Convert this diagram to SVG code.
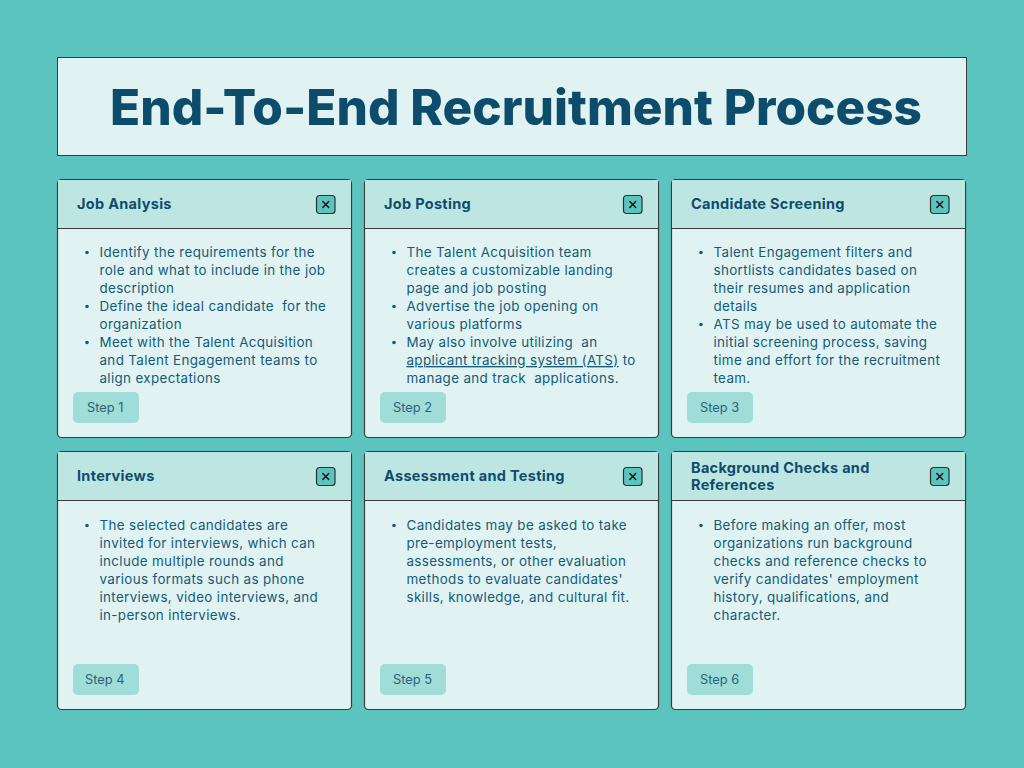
<svg xmlns="http://www.w3.org/2000/svg" width="1024" height="768" viewBox="0 0 1024 768">
<defs>
<style>
.card{fill:#e0f3f2;stroke:#3a3a3a;stroke-width:1.2}
.hdr{fill:#bde6e3}
.div{stroke:#3a3a3a;stroke-width:1.2}
.ttl{font-family:Inter,"Liberation Sans",sans-serif;font-weight:700;font-size:14.5px;letter-spacing:0.3px;fill:#0f4c6b}
.body{font-family:Inter,"Liberation Sans",sans-serif;font-size:13.4px;letter-spacing:0.35px;fill:#155a78}
.dot{fill:#155a78}
.btn{fill:#a0dcd8}
.btnt{font-family:Inter,"Liberation Sans",sans-serif;font-size:12.8px;fill:#2a6377}
.xb{fill:#5bc4be;stroke:#2e2e2e;stroke-width:1.2}
.xm{stroke:#1a1a1a;stroke-width:1.6;stroke-linecap:round}
</style>
<g id="closebtn">
<rect class="xb" x="0" y="0" width="18.5" height="18" rx="3"/>
<line class="xm" x1="6.3" y1="6" x2="12.2" y2="12"/>
<line class="xm" x1="12.2" y1="6" x2="6.3" y2="12"/>
</g>
</defs>
<rect width="1024" height="768" fill="#5bc4be"/>
<g id="title">
<rect x="57.5" y="57.5" width="909" height="98" fill="#e0f3f2" stroke="#3a3a3a" stroke-width="1"/>
<text x="516" y="125" text-anchor="middle" font-family="Inter,'Liberation Sans',sans-serif" font-weight="800" font-size="49" fill="#0d4d6b" textLength="812" lengthAdjust="spacingAndGlyphs">End-To-End Recruitment Process</text>
</g>

<g id="card1">
<rect class="card" x="57.5" y="179.5" width="294" height="258" rx="4"/>
<path class="hdr" d="M58.1 180.1H350.9V228H58.1Z"/>
<line class="div" x1="57.5" y1="228.5" x2="351.5" y2="228.5"/>
<text class="ttl" x="77" y="209">Job Analysis</text>
<use href="#closebtn" x="316.5" y="195.5"/>
<circle class="dot" cx="87" cy="252.5" r="1.8"/><circle class="dot" cx="87" cy="306.5" r="1.8"/><circle class="dot" cx="87" cy="342.5" r="1.8"/>
<text class="body" xml:space="preserve"><tspan x="99.5" y="257">Identify the requirements for the</tspan><tspan x="99.5" y="275">role and what to include in the job</tspan><tspan x="99.5" y="293">description</tspan><tspan x="99.5" y="311">Define the ideal candidate  for the</tspan><tspan x="99.5" y="329">organization</tspan><tspan x="99.5" y="347">Meet with the Talent Acquisition</tspan><tspan x="99.5" y="365">and Talent Engagement teams to</tspan><tspan x="99.5" y="383">align expectations</tspan></text>
<rect class="btn" x="73" y="392" width="66" height="31" rx="5"/>
<text class="btnt" x="87" y="411.5">Step 1</text>
</g>

<g id="card2">
<rect class="card" x="364.5" y="179.5" width="294" height="258" rx="4"/>
<path class="hdr" d="M365.1 180.1H657.9V228H365.1Z"/>
<line class="div" x1="364.5" y1="228.5" x2="658.5" y2="228.5"/>
<text class="ttl" x="384" y="209">Job Posting</text>
<use href="#closebtn" x="623.5" y="195.5"/>
<circle class="dot" cx="394" cy="252.5" r="1.8"/><circle class="dot" cx="394" cy="306.5" r="1.8"/><circle class="dot" cx="394" cy="342.5" r="1.8"/>
<text class="body" xml:space="preserve"><tspan x="406.5" y="257">The Talent Acquisition team</tspan><tspan x="406.5" y="275">creates a customizable landing</tspan><tspan x="406.5" y="293">page and job posting</tspan><tspan x="406.5" y="311">Advertise the job opening on</tspan><tspan x="406.5" y="329">various platforms</tspan><tspan x="406.5" y="347">May also involve utilizing  an</tspan><tspan x="406.5" y="365" text-decoration="underline">applicant tracking system (ATS)</tspan><tspan> to</tspan><tspan x="406.5" y="383">manage and track  applications.</tspan></text>
<rect class="btn" x="380" y="392" width="66" height="31" rx="5"/>
<text class="btnt" x="393" y="411.5">Step 2</text>
</g>

<g id="card3">
<rect class="card" x="671.5" y="179.5" width="294" height="258" rx="4"/>
<path class="hdr" d="M672.1 180.1H964.9V228H672.1Z"/>
<line class="div" x1="671.5" y1="228.5" x2="965.5" y2="228.5"/>
<text class="ttl" x="691" y="209">Candidate Screening</text>
<use href="#closebtn" x="930.5" y="195.5"/>
<circle class="dot" cx="701" cy="252.5" r="1.8"/><circle class="dot" cx="701" cy="324.5" r="1.8"/>
<text class="body" xml:space="preserve"><tspan x="713.5" y="257">Talent Engagement filters and</tspan><tspan x="713.5" y="275">shortlists candidates based on</tspan><tspan x="713.5" y="293">their resumes and application</tspan><tspan x="713.5" y="311">details</tspan><tspan x="713.5" y="329">ATS may be used to automate the</tspan><tspan x="713.5" y="347">initial screening process, saving</tspan><tspan x="713.5" y="365">time and effort for the recruitment</tspan><tspan x="713.5" y="383">team.</tspan></text>
<rect class="btn" x="687" y="392" width="66" height="31" rx="5"/>
<text class="btnt" x="700" y="411.5">Step 3</text>
</g>

<g id="card4">
<rect class="card" x="57.5" y="451.5" width="294" height="258" rx="4"/>
<path class="hdr" d="M58.1 452.1H350.9V500H58.1Z"/>
<line class="div" x1="57.5" y1="500.5" x2="351.5" y2="500.5"/>
<text class="ttl" x="77" y="481">Interviews</text>
<use href="#closebtn" x="316.5" y="467.5"/>
<circle class="dot" cx="87" cy="525.5" r="1.8"/>
<text class="body"><tspan x="99.5" y="530">The selected candidates are</tspan><tspan x="99.5" y="548">invited for interviews, which can</tspan><tspan x="99.5" y="566">include multiple rounds and</tspan><tspan x="99.5" y="584">various formats such as phone</tspan><tspan x="99.5" y="602">interviews, video interviews, and</tspan><tspan x="99.5" y="620">in-person interviews.</tspan></text>
<rect class="btn" x="73" y="664" width="66" height="31" rx="5"/>
<text class="btnt" x="85" y="683.5">Step 4</text>
</g>

<g id="card5">
<rect class="card" x="364.5" y="451.5" width="294" height="258" rx="4"/>
<path class="hdr" d="M365.1 452.1H657.9V500H365.1Z"/>
<line class="div" x1="364.5" y1="500.5" x2="658.5" y2="500.5"/>
<text class="ttl" x="384" y="481">Assessment and Testing</text>
<use href="#closebtn" x="623.5" y="467.5"/>
<circle class="dot" cx="394" cy="525.5" r="1.8"/>
<text class="body"><tspan x="406.5" y="530">Candidates may be asked to take</tspan><tspan x="406.5" y="548">pre-employment tests,</tspan><tspan x="406.5" y="566">assessments, or other evaluation</tspan><tspan x="406.5" y="584">methods to evaluate candidates'</tspan><tspan x="406.5" y="602">skills, knowledge, and cultural fit.</tspan></text>
<rect class="btn" x="380" y="664" width="66" height="31" rx="5"/>
<text class="btnt" x="393" y="683.5">Step 5</text>
</g>

<g id="card6">
<rect class="card" x="671.5" y="451.5" width="294" height="258" rx="4"/>
<path class="hdr" d="M672.1 452.1H964.9V500H672.1Z"/>
<line class="div" x1="671.5" y1="500.5" x2="965.5" y2="500.5"/>
<text class="ttl"><tspan x="691" y="473">Background Checks and</tspan><tspan x="691" y="490">References</tspan></text>
<use href="#closebtn" x="930.5" y="467.5"/>
<circle class="dot" cx="701" cy="525.5" r="1.8"/>
<text class="body"><tspan x="713.5" y="530">Before making an offer, most</tspan><tspan x="713.5" y="548">organizations run background</tspan><tspan x="713.5" y="566">checks and reference checks to</tspan><tspan x="713.5" y="584">verify candidates' employment</tspan><tspan x="713.5" y="602">history, qualifications, and</tspan><tspan x="713.5" y="620">character.</tspan></text>
<rect class="btn" x="687" y="664" width="66" height="31" rx="5"/>
<text class="btnt" x="700" y="683.5">Step 6</text>
</g>
</svg>
